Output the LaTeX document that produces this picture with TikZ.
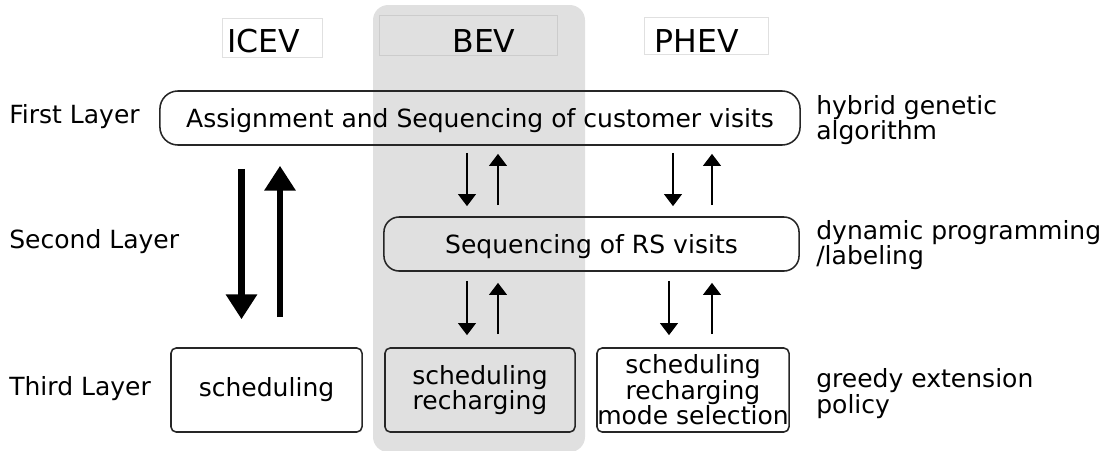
\documentclass[tikz,border=0pt]{standalone}
\usepackage{fontspec}
\setmainfont{DejaVu Sans}
\usetikzlibrary{arrows.meta}

\tikzset{
  layerbox/.style={draw=black!85, line width=1.1pt, align=center, inner sep=0pt},
  layertext/.style={anchor=base west, inner sep=0pt},
  methodtext/.style={anchor=west, align=left, inner sep=0pt},
  headtext/.style={font=\fontsize{22.4}{24}\selectfont, inner sep=0pt},
  thinarrow/.style={line width=2.1pt, -{Triangle[width=0.43cm,length=0.3cm]}},
  thickarrow/.style={line width=4.3pt, -{Triangle[width=0.75cm,length=0.62cm]}},
}

\begin{document}
\begin{tikzpicture}[x=0.025cm, y=-0.025cm, font=\fontsize{17.8}{17.2}\selectfont]
            \useasboundingbox (0,0) rectangle (1107,450);

            % BEV column
            \fill[black!12, rounded corners=0.38cm] (373,5) rectangle (585,452);
            \draw[black!12] (222,18) rectangle (322,57);
            \draw[black!20] (379,15) rectangle (557,55);
            \draw[black!12] (644,17) rectangle (768,54);

            \node[headtext] (icev) at (263.5,41.5) {ICEV};
            \node[headtext] (bev) at (484,41.5) {BEV};
            \node[headtext] (phev) at (696.5,41.5) {PHEV};

            \node[layertext] (l1) at (9,123) {First Layer};
            \node[layertext] (l2) at (9,248) {Second Layer};
            \node[layertext] (l3) at (9,395) {Third Layer};

            \node[layerbox, rounded corners=0.45cm, text depth=0pt, minimum width=16cm, minimum height=1.35cm] (first) at (480,118) {Assignment and Sequencing of customer visits};
            \node[layerbox, rounded corners=0.38cm, text depth=0pt, minimum width=10.375cm, minimum height=1.35cm] (second) at (591.5,244) {Sequencing of RS visits};
            \node[layerbox, rounded corners=0.13cm, minimum width=4.775cm, minimum height=2.1cm] (icevsched) at (266.5,390) {scheduling};
            \node[layerbox, rounded corners=0.13cm, minimum width=4.75cm, minimum height=2.1cm] (bevsched) at (480,390) {scheduling\\recharging};
            \node[layerbox, rounded corners=0.13cm, minimum width=4.8cm, minimum height=2.1cm] (phevsched) at (693,390) {scheduling\\recharging\\mode selection};

            \node[methodtext] (hga) at (816,120) {hybrid genetic\\algorithm};
            \node[methodtext] (dp) at (816,245) {dynamic programming\\/labeling};
            \node[methodtext] (greedy) at (816,393.5) {greedy extension\\policy};

            \coordinate (icevdown) at (241.5,0);
            \coordinate (icevup) at (280,0);
            \coordinate (bevdown) at (467,0);
            \coordinate (bevup) at (498,0);
            \coordinate (phevdown) at (673,0);
            \coordinate (phevdownb) at (669,0);
            \coordinate (phevup) at (712,0);

            % ICEV: first <-> third
            \draw[thickarrow, shorten <=0.575cm, shorten >=0.7cm] (first.south -| icevdown) -- (icevsched.north -| icevdown);
            \draw[thickarrow, shorten <=0.75cm, shorten >=0.5cm] (icevsched.north -| icevup) -- (first.south -| icevup);

            % first <-> second
            \draw[thinarrow, shorten <=0.175cm, shorten >=0.25cm] (first.south -| bevdown) -- (second.north -| bevdown);
            \draw[thinarrow, shorten <=0.275cm, shorten >=0.2cm] (second.north -| bevup) -- (first.south -| bevup);
            \draw[thinarrow, shorten <=0.175cm, shorten >=0.25cm] (first.south -| phevdown) -- (second.north -| phevdown);
            \draw[thinarrow, shorten <=0.275cm, shorten >=0.2cm] (second.north -| phevup) -- (first.south -| phevup);

            % second <-> third
            \draw[thinarrow, shorten <=0.225cm, shorten >=0.3cm] (second.south -| bevdown) -- (bevsched.north -| bevdown);
            \draw[thinarrow, shorten <=0.325cm, shorten >=0.275cm] (bevsched.north -| bevup) -- (second.south -| bevup);
            \draw[thinarrow, shorten <=0.225cm, shorten >=0.3cm] (second.south -| phevdownb) -- (phevsched.north -| phevdownb);
            \draw[thinarrow, shorten <=0.325cm, shorten >=0.275cm] (phevsched.north -| phevup) -- (second.south -| phevup);

        \end{tikzpicture}
\end{document}
